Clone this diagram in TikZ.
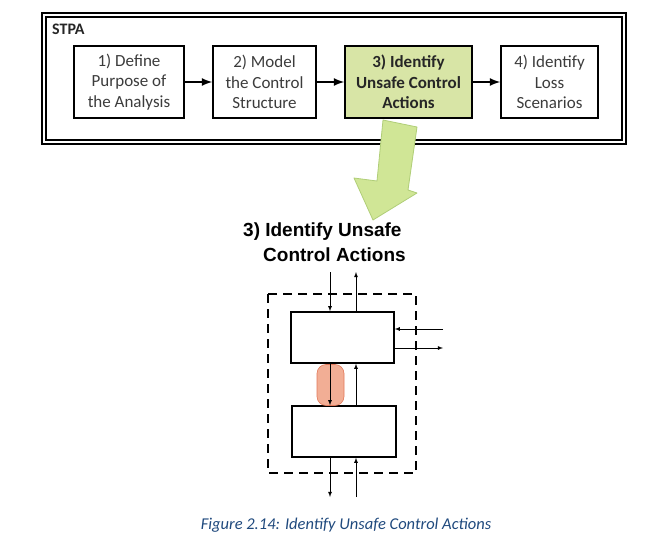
\documentclass[tikz,border=0pt]{standalone}
\usepackage{fontspec}
\setmainfont{Carlito}
\newfontfamily\headfont{Liberation Sans}
\usepackage{xcolor}
\usepackage{tikz}
\usetikzlibrary{positioning}

\definecolor{stepgreen}{RGB}{216,229,166}
\definecolor{arrowgreen}{RGB}{208,230,150}
\definecolor{arrowedge}{RGB}{176,206,120}
\definecolor{hilite}{RGB}{240,160,130}
\definecolor{hiliteedge}{RGB}{226,120,90}
\definecolor{captionblue}{RGB}{31,73,125}
\definecolor{boxtext}{RGB}{60,60,60}

\tikzset{
  stepbox/.style={draw, line width=1.6pt, fill=white, text=boxtext, align=center,
    minimum height=72pt, inner sep=2pt, font=\fontsize{17}{20.5}\selectfont},
  flow/.style={line width=2.5pt, -latex},
  blockbox/.style={draw, line width=1.4pt, fill=white, minimum height=51pt},
  signal/.style={line width=0.8pt, -latex}
}

\begin{document}
\begin{tikzpicture}[x=1pt,y=-1pt]
\useasboundingbox (0,0) rectangle (667,549);

% STPA frame
\draw[double, double distance=2pt, line width=1.8pt] (44,15) rectangle (624,142);
\node[anchor=west, inner sep=0pt, font=\fontsize{16}{18}\selectfont\bfseries, text=black!85] (stpa) at (52,29) {STPA};

\node[stepbox, minimum width=110pt] (define) at (129,82) {1) Define\\Purpose of\\the Analysis};
\node[stepbox, minimum width=103pt] (model) at (264.5,82) {2) Model\\the Control\\Structure};
\node[stepbox, minimum width=127pt, fill=stepgreen, text=black!85, font=\fontsize{17}{20.5}\selectfont\bfseries] (uca) at (408.5,82) {3) Identify\\Unsafe Control\\Actions};
\node[stepbox, minimum width=97pt] (loss) at (549.5,82) {4) Identify\\Loss\\Scenarios};

\draw[flow] (define) -- (model);
\draw[flow] (model) -- (uca);
\draw[flow] (uca) -- (loss);

% green block arrow
\filldraw[fill=arrowgreen, draw=arrowedge, line width=0.8pt, line join=round]
  (383,120) -- (417,127) -- (408,190) -- (417,193) -- (373,220) -- (354,178) -- (377,181) -- cycle;

\node[anchor=west, inner sep=0pt, font=\headfont\fontsize{19}{21}\selectfont\bfseries] (title) at (243,232) {3) Identify Unsafe};
\node[anchor=west, inner sep=0pt, font=\headfont\fontsize{19}{21}\selectfont\bfseries] (title2) at (263,255) {Control Actions};

% control loop
\draw[line width=2.4pt, dash pattern=on 9pt off 6pt] (268,294) rectangle (416,473);
\node[blockbox, minimum width=103pt] (ctrl) at (342.5,337.5) {};
\node[blockbox, minimum width=104pt] (proc) at (344,431.5) {};

\coordinate (xa) at (330,0);
\coordinate (xb) at (356,0);
\coordinate (topend) at (0,272);
\coordinate (botend) at (0,497);
\coordinate (rightend) at (443,0);
\coordinate (ya) at (0,329);
\coordinate (yb) at (0,348);

\node[draw=hiliteedge, fill=hilite, fill opacity=0.85, rounded corners=9pt, line width=0.6pt,
  minimum width=27pt, minimum height=41pt, inner sep=0pt] (uca box) at (330.5,385) {};

\draw[signal] (topend -| xa) -- (ctrl.north -| xa);
\draw[signal] (ctrl.north -| xb) -- (topend -| xb);
\draw[signal] (rightend |- ya) -- (ctrl.east |- ya);
\draw[signal] (ctrl.east |- yb) -- (rightend |- yb);
\draw[signal] (ctrl.south -| xa) -- (proc.north -| xa);
\draw[signal] (proc.north -| xb) -- (ctrl.south -| xb);
\draw[signal] (proc.south -| xa) -- (botend -| xa);
\draw[signal] (botend -| xb) -- (proc.south -| xb);

\node[font=\fontsize{16.5}{18}\selectfont\itshape, text=captionblue, inner sep=0pt] (caption) at (346,525) {Figure 2.14: Identify Unsafe Control Actions};

\end{tikzpicture}
\end{document}
